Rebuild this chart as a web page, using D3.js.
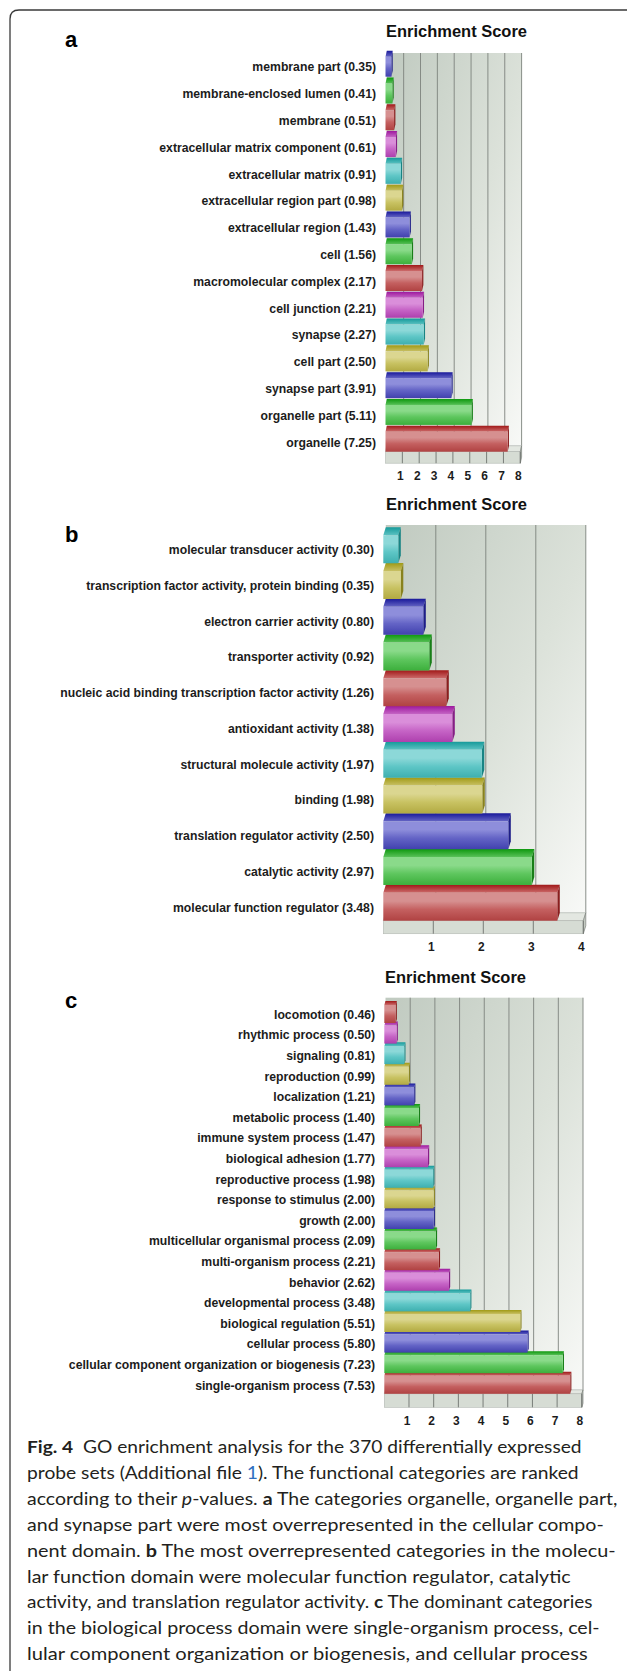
<!DOCTYPE html>
<html>
<head>
<meta charset="utf-8">
<script src="https://cdn.jsdelivr.net/npm/d3@7"></script>
<style>
  body { margin: 0; background: #fff; }
  svg { display: block; }
</style>
</head>
<body>
<script>
// ---- data (top row first) ----
const ccTerms = ['membrane part', 'membrane-enclosed lumen', 'membrane', 'extracellular matrix component',
  'extracellular matrix', 'extracellular region part', 'extracellular region', 'cell', 'macromolecular complex',
  'cell junction', 'synapse', 'cell part', 'synapse part', 'organelle part', 'organelle'];
const ccScores = [0.35, 0.41, 0.51, 0.61, 0.91, 0.98, 1.43, 1.56, 2.17, 2.21, 2.27, 2.50, 3.91, 5.11, 7.25];
const ccTicks = [1, 2, 3, 4, 5, 6, 7, 8];

const mfTerms = ['molecular transducer activity', 'transcription factor activity, protein binding',
  'electron carrier activity', 'transporter activity', 'nucleic acid binding transcription factor activity',
  'antioxidant activity', 'structural molecule activity', 'binding', 'translation regulator activity',
  'catalytic activity', 'molecular function regulator'];
const mfScores = [0.30, 0.35, 0.80, 0.92, 1.26, 1.38, 1.97, 1.98, 2.50, 2.97, 3.48];
const mfTicks = [1, 2, 3, 4];

const bpTerms = ['locomotion', 'rhythmic process', 'signaling', 'reproduction', 'localization',
  'metabolic process', 'immune system process', 'biological adhesion', 'reproductive process',
  'response to stimulus', 'growth', 'multicellular organismal process', 'multi-organism process',
  'behavior', 'developmental process', 'biological regulation', 'cellular process',
  'cellular component organization or biogenesis', 'single-organism process'];
const bpScores = [0.46, 0.50, 0.81, 0.99, 1.21, 1.40, 1.47, 1.77, 1.98, 2.00, 2.00, 2.09, 2.21, 2.62,
  3.48, 5.51, 5.80, 7.23, 7.53];
const bpTicks = [1, 2, 3, 4, 5, 6, 7, 8];

const captionLines = [
  [['Fig. 4', 'b'], ['  GO enrichment analysis for the 370 differentially expressed']],
  [['probe sets (Additional file '], ['1', 'link'], ['). The functional categories are ranked']],
  [['according to their '], ['p', 'i'], ['-values. '], ['a', 'b'], [' The categories organelle, organelle part,']],
  [['and synapse part were most overrepresented in the cellular compo-']],
  [['nent domain. '], ['b', 'b'], [' The most overrepresented categories in the molecu-']],
  [['lar function domain were molecular function regulator, catalytic']],
  [['activity, and translation regulator activity. '], ['c', 'b'], [' The dominant categories']],
  [['in the biological process domain were single-organism process, cel-']],
  [['lular component organization or biogenesis, and cellular process']]
];

// ---- layout ----
const W = 627, H = 1671;
const captionRight = [582, 579, 618, 604, 616, 571, 593, 600, 588];
const labelFont = '"Liberation Sans", Arial, sans-serif';
const squeeze = 0.92;   // labels in the figure are set slightly condensed

// bar colours, counted from the bottom bar upward
const palette = [
  { light: '#d69090', mid: '#c46060', dark: '#b04242', topB: '#a01818', topF: '#cc6a6a', side: '#8a1e1e' },
  { light: '#8ada8a', mid: '#5ec65e', dark: '#3caf3c', topB: '#0e980e', topF: '#58c058', side: '#187e18' },
  { light: '#8e8edb', mid: '#6464c6', dark: '#4141ae', topB: '#18189a', topF: '#6464c4', side: '#1e1e88' },
  { light: '#dbd690', mid: '#c8c262', dark: '#b2aa42', topB: '#a09a16', topF: '#c8c064', side: '#88821e' },
  { light: '#8cd8d8', mid: '#5ec6c6', dark: '#3eafaf', topB: '#169a9a', topF: '#5cc2c2', side: '#188484' },
  { light: '#da8eda', mid: '#c664c6', dark: '#ae40ae', topB: '#9e189e', topF: '#c464c4', side: '#861e86' }
];

const svg = d3.select('body').append('svg').attr('width', W).attr('height', H);
const defs = svg.append('defs');

palette.forEach(function(p, k) {
  const f = defs.append('linearGradient').attr('id', 'front' + k)
    .attr('x1', 0).attr('y1', 0).attr('x2', 0).attr('y2', 1);
  f.append('stop').attr('offset', '0%').attr('stop-color', p.light);
  f.append('stop').attr('offset', '30%').attr('stop-color', p.light);
  f.append('stop').attr('offset', '60%').attr('stop-color', p.mid);
  f.append('stop').attr('offset', '100%').attr('stop-color', p.dark);
  const t = defs.append('linearGradient').attr('id', 'top' + k)
    .attr('x1', 0).attr('y1', 0).attr('x2', 0).attr('y2', 1);
  t.append('stop').attr('offset', '0%').attr('stop-color', p.topB);
  t.append('stop').attr('offset', '100%').attr('stop-color', p.topF);
});

const wall = defs.append('linearGradient').attr('id', 'wall')
  .attr('x1', 0).attr('y1', 0).attr('x2', 1).attr('y2', 1);
wall.append('stop').attr('offset', '0%').attr('stop-color', '#c0cac0');
wall.append('stop').attr('offset', '55%').attr('stop-color', '#dce2da');
wall.append('stop').attr('offset', '100%').attr('stop-color', '#f8f9f7');

// frame
svg.append('path')
  .attr('d', 'M10,' + (H + 10) + ' V19 Q10,10 19,10 H' + (W + 10))
  .attr('fill', 'none').attr('stroke', '#3a3a3a').attr('stroke-width', 1.3);

function drawPanel(p) {
  const g = svg.append('g');
  const n = p.terms.length;
  const x = d3.scaleLinear().domain([0, p.max]).range([p.x0, p.x1]);
  const y = d3.scaleBand().domain(p.terms).range([p.bandTop, p.bandBottom]).padding(0);
  const cy = function(t) { return y(t) + y.bandwidth() / 2; };
  const ft = cy(p.terms[n - 1]) + p.frontH / 2;
  const fb = ft + p.floorH;
  const dx = p.dx, dy = p.dy;
  const rows = p.terms.map(function(t, i) { return { term: t, score: p.scores[i], i: i, color: (n - 1 - i) % 6 }; });

  // back wall
  g.append('rect')
    .attr('x', x(0) + dx).attr('y', p.wallTop)
    .attr('width', x(p.max) - x(0)).attr('height', ft - dy - p.wallTop)
    .attr('fill', 'url(#wall)');
  g.selectAll('.grid').data(p.ticks).enter().append('line')
    .attr('class', 'grid')
    .attr('x1', function(d) { return x(d) + dx; }).attr('x2', function(d) { return x(d) + dx; })
    .attr('y1', p.wallTop).attr('y2', ft - dy)
    .attr('stroke', '#7d827d').attr('stroke-width', 0.9);

  // floor slab
  const xa = x(0), xb = x(p.max);
  g.append('polygon')
    .attr('points', [[xa, ft], [xb, ft], [xb + dx, ft - dy], [xa + dx, ft - dy]].join(' '))
    .attr('fill', '#e3e7e1').attr('stroke', '#a3a8a3').attr('stroke-width', 0.6);
  g.append('rect')
    .attr('x', xa).attr('y', ft).attr('width', xb - xa).attr('height', fb - ft)
    .attr('fill', '#d6dcd4').attr('stroke', '#b3b8b2').attr('stroke-width', 0.6);
  g.append('polygon')
    .attr('points', [[xb, ft], [xb + dx, ft - dy], [xb + dx, fb - dy], [xb, fb]].join(' '))
    .attr('fill', '#c4cac2').attr('stroke', '#7d827d').attr('stroke-width', 0.7);
  g.selectAll('.ftick').data(p.ticks).enter().append('line')
    .attr('class', 'ftick')
    .attr('x1', function(d) { return x(d); }).attr('x2', function(d) { return x(d); })
    .attr('y1', ft).attr('y2', fb)
    .attr('stroke', '#6e736e').attr('stroke-width', 0.9);

  // bars, bottom row first so upper bars sit on top
  const bars = g.selectAll('.bar').data(rows.slice().reverse()).enter().append('g').attr('class', 'bar');
  bars.append('polygon')
    .attr('points', function(d) {
      const t = cy(d.term) - p.frontH / 2, xe = x(d.score);
      return [[xa, t], [xe, t], [xe + dx, t - dy], [xa + dx, t - dy]].join(' ');
    })
    .attr('fill', function(d) { return 'url(#top' + d.color + ')'; });
  bars.append('polygon')
    .attr('points', function(d) {
      const t = cy(d.term) - p.frontH / 2, b = t + p.frontH, xe = x(d.score);
      return [[xe, t], [xe + dx, t - dy], [xe + dx, b - dy], [xe, b]].join(' ');
    })
    .attr('fill', function(d) { return palette[d.color].side; });
  bars.append('rect')
    .attr('x', xa)
    .attr('y', function(d) { return cy(d.term) - p.frontH / 2; })
    .attr('width', function(d) { return x(d.score) - xa; })
    .attr('height', p.frontH)
    .attr('fill', function(d) { return 'url(#front' + d.color + ')'; });

  // category labels
  g.selectAll('.lab').data(rows).enter().append('text')
    .attr('class', 'lab')
    .attr('transform', function(d) { return 'translate(' + p.labelX + ',' + cy(d.term) + ') scale(' + squeeze + ',1)'; })
    .attr('dy', '0.36em')
    .attr('text-anchor', 'end')
    .style('font-family', labelFont).style('font-weight', 'bold').style('font-size', '13.3px')
    .style('fill', '#1c1c1c')
    .text(function(d) { return d.term + ' (' + d.score.toFixed(2) + ')'; });

  // tick labels
  g.selectAll('.tl').data(p.ticks).enter().append('text')
    .attr('class', 'tl')
    .attr('transform', function(d) { return 'translate(' + (x(d) - 2) + ',' + p.tickY + ') scale(' + squeeze + ',1)'; })
    .attr('dy', '0.36em')
    .attr('text-anchor', 'middle')
    .style('font-family', labelFont).style('font-weight', 'bold').style('font-size', '13px')
    .style('fill', '#1c1c1c')
    .text(function(d) { return d; });

  g.append('text')
    .attr('x', p.titleX).attr('y', p.titleY)
    .attr('textLength', 141).attr('lengthAdjust', 'spacingAndGlyphs')
    .style('font-family', labelFont).style('font-weight', 'bold').style('font-size', '16px')
    .style('fill', '#111')
    .text('Enrichment Score');

  g.append('text')
    .attr('x', 65).attr('y', p.letterY)
    .style('font-family', labelFont).style('font-weight', 'bold').style('font-size', '22px')
    .style('fill', '#000')
    .text(p.letter);
}

drawPanel({ terms: ccTerms, scores: ccScores, ticks: ccTicks, max: 8, letter: 'a',
  x0: 385.5, x1: 520.3, dx: 1.3, dy: 6, bandTop: 53.3, bandBottom: 455.1, frontH: 20,
  wallTop: 53, floorH: 11.5, tickY: 475, labelX: 376, titleX: 386, titleY: 37, letterY: 47 });

drawPanel({ terms: mfTerms, scores: mfScores, ticks: mfTicks, max: 4, letter: 'b',
  x0: 383.3, x1: 583.3, dx: 2.5, dy: 8, bandTop: 531.4, bandBottom: 924.6, frontH: 28,
  wallTop: 525, floorH: 13, tickY: 946.7, labelX: 374, titleX: 386, titleY: 510, letterY: 541.7 });

drawPanel({ terms: bpTerms, scores: bpScores, ticks: bpTicks, max: 8, letter: 'c',
  x0: 384.3, x1: 581.8, dx: 1.2, dy: 4, bandTop: 1003.7, bandBottom: 1395.1, frontH: 18,
  wallTop: 997.7, floorH: 13.5, tickY: 1420, labelX: 375.2, titleX: 385, titleY: 983.3, letterY: 1007.7 });

// caption
const capLeft = 27, capTop = 1453, capStep = 25.9;
captionLines.forEach(function(line, i) {
  const t = svg.append('text')
    .attr('x', 0).attr('y', 0)
    .style('font-family', 'Lato, "Open Sans", sans-serif').style('font-size', '17.5px')
    .style('white-space', 'pre').style('fill', '#231f20');
  t.selectAll('tspan').data(line).enter().append('tspan')
    .style('font-weight', function(s) { return s[1] === 'b' ? 'bold' : 'normal'; })
    .style('font-style', function(s) { return s[1] === 'i' ? 'italic' : 'normal'; })
    .style('fill', function(s) { return s[1] === 'link' ? '#2f6fc0' : null; })
    .text(function(s) { return s[0]; });
  const w = t.node().getComputedTextLength();
  const sx = (captionRight[i] - capLeft) / w;
  t.attr('transform', 'translate(' + capLeft + ',' + (capTop + i * capStep) + ') scale(' + sx + ',1)');
});
</script>
</body>
</html>
